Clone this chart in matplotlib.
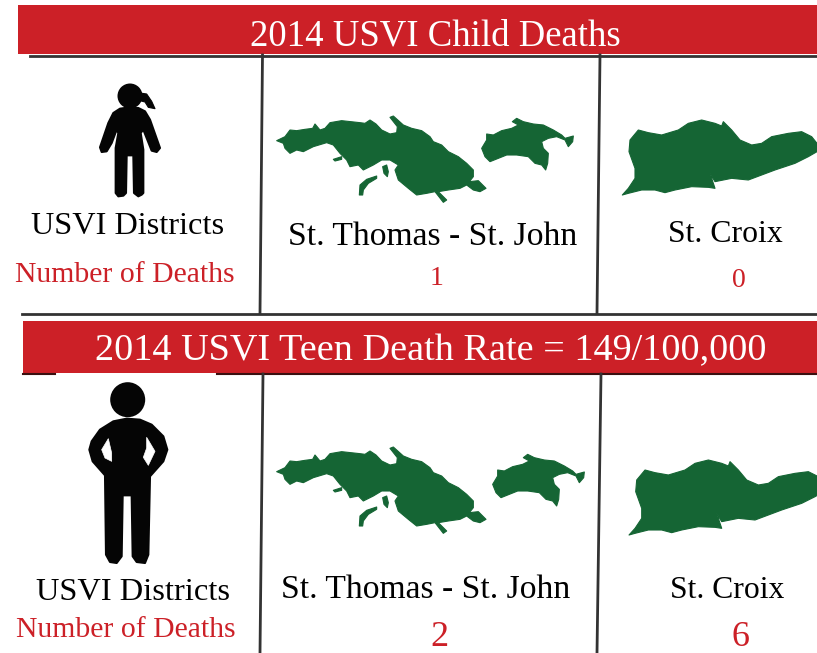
import numpy as np
import matplotlib
matplotlib.use('Agg')
import matplotlib.pyplot as plt
from matplotlib.patches import Polygon, Rectangle, Circle

# values
titles = ['2014 USVI Child Deaths', '2014 USVI Teen Death Rate = 149/100,000']
districts = ['St. Thomas - St. John', 'St. Croix']
child_deaths = [1, 0]
teen_deaths = [2, 6]
row_label = 'USVI Districts'
value_label = 'Number of Deaths'

RED = '#CC2027'
GREEN = '#156534'
LINE = '#333333'
BLACK = '#050505'
FONT = 'Liberation Serif'


def crop(points, x0, y0):
    """Outlines were traced on 3x crops, bring them back to pixels"""
    return np.array(points) / 3 + [x0, y0]


st_thomas = crop([(20,92),(45,80),(60,60),(80,62),(105,58),(128,55),(135,42),(150,60),(165,55),(180,38),(215,32),
                  (270,38),(285,40),(300,30),(318,42),(335,60),(360,72),(380,68),(382,50),(360,22),(370,18),(400,45),
                  (425,55),(455,62),(480,80),(490,95),(515,105),(535,125),(565,140),(590,160),(610,180),(610,200),
                  (598,215),(625,212),(648,235),(630,245),(610,240),(590,225),(570,235),(535,240),(505,245),(530,270),
                  (520,277),(495,245),(470,250),(440,255),(415,235),(385,210),(375,180),(385,165),(360,150),(335,150),
                  (310,165),(280,180),(265,165),(240,170),(230,150),(210,130),(190,105),(170,98),(130,110),(100,125),
                  (80,120),(60,130),(45,115),(40,100)], 270, 110)
islet_a = crop([(190,148),(215,140),(215,148),(195,153)], 270, 110)
islet_b = crop([(338,170),(350,165),(355,185),(352,200),(342,190)], 270, 110)
islet_c = crop([(270,225),(290,208),(320,198),(320,205),(295,220),(280,240),(278,255),(268,255)], 270, 110)
st_john = crop([(20,115),(35,90),(35,72),(55,75),(80,62),(110,55),(130,45),(112,35),(125,25),(145,35),(175,42),
                (205,45),(235,60),(260,75),(270,85),(295,78),(293,95),(280,110),(270,90),(245,80),(220,85),(200,95),
                (205,115),(220,130),(218,160),(212,180),(200,165),(180,160),(160,140),(125,135),(95,135),(70,145),
                (45,155),(30,140)], 475, 110)
st_croix = crop([(22,255),(40,235),(60,205),(60,175),(42,125),(45,90),(70,60),(100,68),(140,75),(190,60),(220,40),
                 (260,30),(300,40),(320,48),(325,35),(350,60),(375,90),(410,105),(440,100),(470,80),(520,70),(560,65),
                 (590,80),(606,100),(606,125),(580,140),(540,160),(480,180),(440,195),(400,210),(350,205),(300,215),
                 (285,190),(300,235),(280,232),(230,230),(180,240),(150,248),(120,240),(80,240),(40,250)], 615, 110)
girl = crop([(118,88),(90,92),(70,105),(55,135),(30,208),(35,222),(50,220),(65,195),(80,155),(85,165),(77,210),
             (77,345),(85,355),(100,353),(108,345),(110,232),(130,232),(132,345),(145,355),(155,350),(160,345),
             (160,215),(152,165),(160,155),(185,218),(200,222),(210,210),(180,125),(165,100),(145,90)], 90, 78)
ponytail = crop([(150,45),(170,48),(185,70),(195,92),(175,88),(165,72),(150,68)], 90, 78)
boy = crop([(140,122),(100,130),(60,155),(35,190),(28,215),(38,250),(75,292),(78,530),(90,552),(110,555),(125,535),
            (128,352),(155,352),(158,535),(170,552),(195,555),(205,530),(210,295),(250,250),(262,215),(250,175),
            (215,140),(180,125)], 80, 378)
boy_gap_l = crop([(85,182),(65,215),(75,240),(95,250),(95,225)], 80, 378)
boy_gap_r = crop([(200,178),(225,220),(205,262),(190,238),(200,210)], 80, 378)


def put_shape(ax, points, dx=0, dy=0, color=GREEN, lw=0.8):
    ax.add_patch(Polygon(points + [dx, dy], closed=True, fc=color, ec=color, lw=lw, joinstyle='round'))


def put_text(ax, x, y, s, size, color='black'):
    ax.text(x, y, s, fontsize=size, color=color, family=FONT, ha='center', va='baseline')


fig = plt.figure(figsize=(8.17, 6.53), dpi=100)
ax = fig.add_axes([0, 0, 1, 1])
ax.set_xlim(0, 817)
ax.set_ylim(653, 0)
ax.axis('off')

# top panel
ax.add_patch(Rectangle((18, 5), 799, 49, fc=RED, ec='none'))
ax.plot([30, 817], [55.5, 55.5], color=LINE, lw=2)
ax.plot([262.5, 260], [55, 313], color=LINE, lw=2)
ax.plot([600, 597], [55, 313], color=LINE, lw=2)
ax.plot([22, 817], [313.5, 313.5], color=LINE, lw=2)
put_text(ax, 435, 45, titles[0], 26.5, 'white')
for shape in [st_thomas, islet_a, islet_b, islet_c, st_john, st_croix]:
    put_shape(ax, shape)
put_shape(ax, girl, color=BLACK, lw=1.5)
put_shape(ax, ponytail, color=BLACK)
ax.add_patch(Circle((130, 96), 12.5, fc=BLACK, ec='none'))
put_text(ax, 128, 234.5, row_label, 23.3)
put_text(ax, 124.5, 282, value_label, 21.4, RED)
put_text(ax, 433, 245, districts[0], 24.2)
put_text(ax, 725, 242, districts[1], 22.9)
put_text(ax, 437, 285, str(child_deaths[0]), 20, RED)
put_text(ax, 739, 287, str(child_deaths[1]), 20, RED)

# bottom panel
ax.add_patch(Rectangle((23, 321), 794, 52, fc=RED, ec='none'))
ax.plot([23, 55], [373.5, 373.5], color='#3a1010', lw=1.5)
ax.plot([217, 817], [373.5, 373.5], color='#3a1010', lw=1.5)
ax.plot([263, 260], [374, 653], color=LINE, lw=2)
ax.plot([601, 597], [374, 653], color=LINE, lw=2)
put_text(ax, 430.5, 360, titles[1], 27.5, 'white')
for shape in [st_thomas, islet_a, islet_b, islet_c]:
    put_shape(ax, shape, 0, 331)
put_shape(ax, st_john, 11, 336)
put_shape(ax, st_croix, 6.7, 340)
put_shape(ax, boy, color=BLACK, lw=1.5)
put_shape(ax, boy_gap_l, color='white', lw=0.5)
put_shape(ax, boy_gap_r, color='white', lw=0.5)
ax.add_patch(Circle((127.7, 399.7), 17.5, fc=BLACK, ec='none'))
put_text(ax, 133.5, 600, row_label, 23.4)
put_text(ax, 125.5, 637, value_label, 21.4, RED)
put_text(ax, 426, 598, districts[0], 24.2)
put_text(ax, 727, 598, districts[1], 22.8)
put_text(ax, 439, 646, str(teen_deaths[0]), 26, RED)
put_text(ax, 741, 646, str(teen_deaths[1]), 26, RED)

fig.savefig('out.png', dpi=100)
plt.close()
